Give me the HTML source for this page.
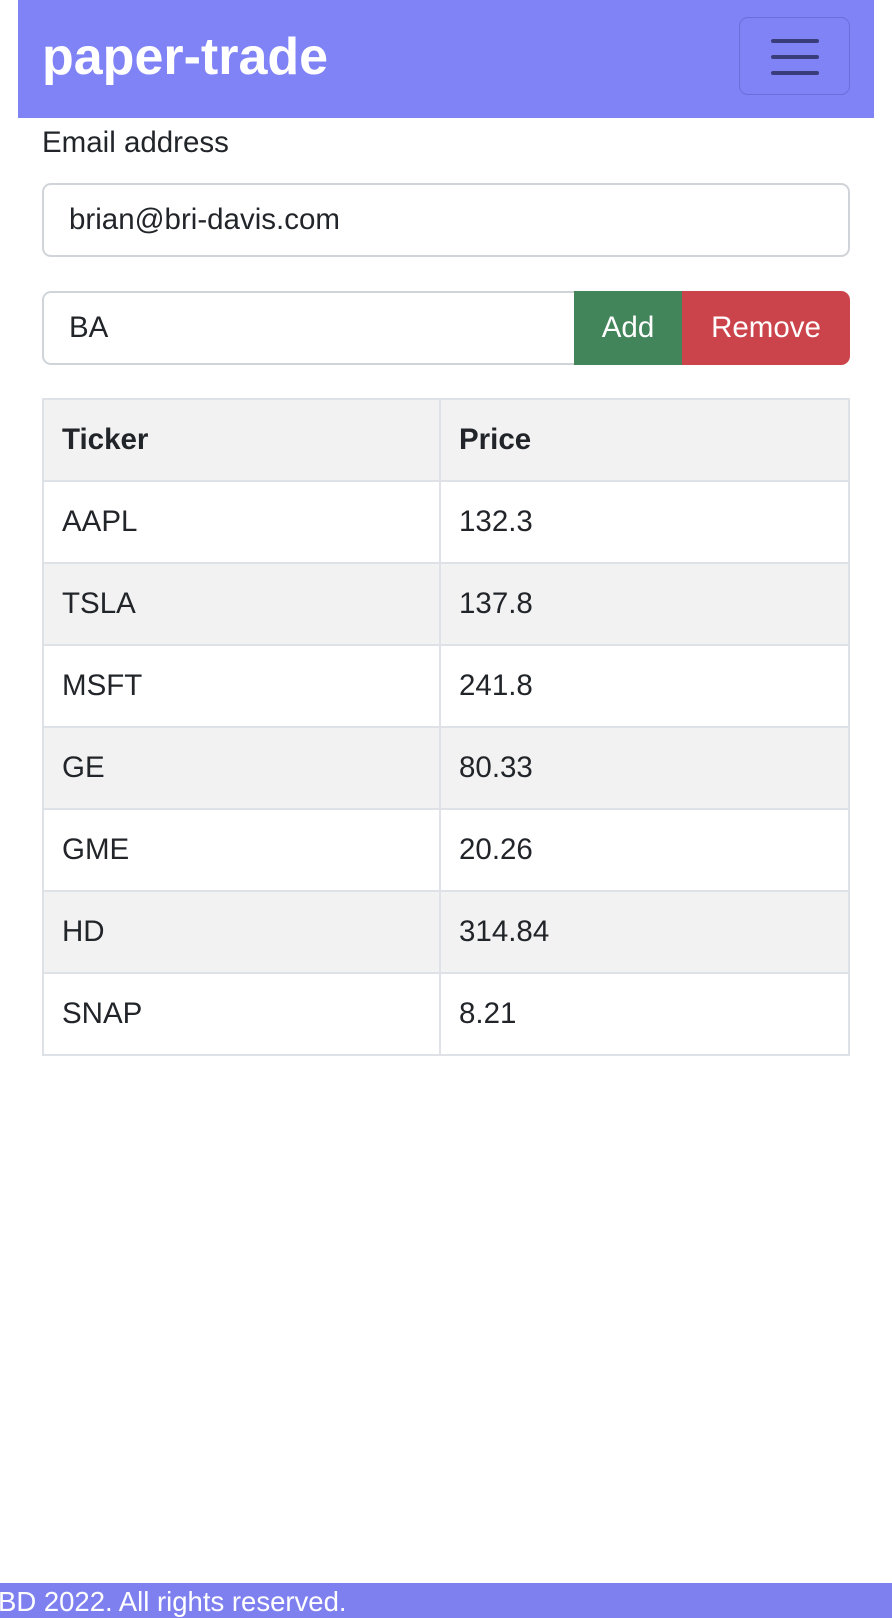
<!DOCTYPE html>
<html><head><meta charset="utf-8">
<style>
*{box-sizing:border-box;margin:0;padding:0}
body{width:892px;height:1618px;position:relative;background:#fff;font-family:"Liberation Sans",sans-serif;color:#212529;overflow:hidden}
.hdr{position:absolute;left:18px;top:0;width:856px;height:118px;background:#8083f6}
.brand{position:absolute;left:24px;top:27px;font-size:52px;font-weight:bold;color:#fff;letter-spacing:0px}
.tog{position:absolute;left:721px;top:17px;width:111px;height:78px;border:1.5px solid #6b6ed8;border-radius:9px}
.tog i{position:absolute;left:31px;width:48px;height:4px;background:#3a3d7a;border-radius:2px}
.lbl{position:absolute;left:42px;top:126px;font-size:29.5px}
.inp{position:absolute;border:2px solid #d0d4d8;border-radius:9px;background:#fff;font-size:29.5px;padding-left:25px;display:flex;align-items:center}
.btn{position:absolute;top:291px;height:74px;color:#fff;font-size:29.5px;display:flex;align-items:center;justify-content:center}
table{position:absolute;left:42px;top:398px;width:808px;border-collapse:collapse;font-size:29.5px}
td,th{border:2px solid #dee2e6;height:82px;padding-left:18px;text-align:left}
th{font-weight:bold}
tr.s{background:#f2f2f2}
.ftr{position:absolute;left:0;top:1583px;width:892px;height:35px;background:#7f80f0;color:#fff;font-size:27.5px;line-height:37px;white-space:nowrap;overflow:hidden}
</style></head><body>
<div class="hdr">
<div class="brand">paper-trade</div>
<div class="tog"><i style="top:21px"></i><i style="top:37px"></i><i style="top:53px"></i></div>
</div>
<div class="lbl">Email address</div>
<div class="inp" style="left:42px;top:183px;width:808px;height:74px">brian@bri-davis.com</div>
<div class="inp" style="left:42px;top:291px;width:540px;height:74px;border-radius:9px 0 0 9px">BA</div>
<div class="btn" style="left:574px;width:108px;background:#42855b">Add</div>
<div class="btn" style="left:682px;width:168px;background:#cc444b;border-radius:0 9px 9px 0">Remove</div>
<table>
<tr class="s"><th style="width:397px">Ticker</th><th>Price</th></tr>
<tr><td>AAPL</td><td>132.3</td></tr>
<tr class="s"><td>TSLA</td><td>137.8</td></tr>
<tr><td>MSFT</td><td>241.8</td></tr>
<tr class="s"><td>GE</td><td>80.33</td></tr>
<tr><td>GME</td><td>20.26</td></tr>
<tr class="s"><td>HD</td><td>314.84</td></tr>
<tr><td>SNAP</td><td>8.21</td></tr>
</table>
<div class="ftr"><span style="position:relative;left:-2px">BD 2022. All rights reserved.</span></div>
</body></html>
